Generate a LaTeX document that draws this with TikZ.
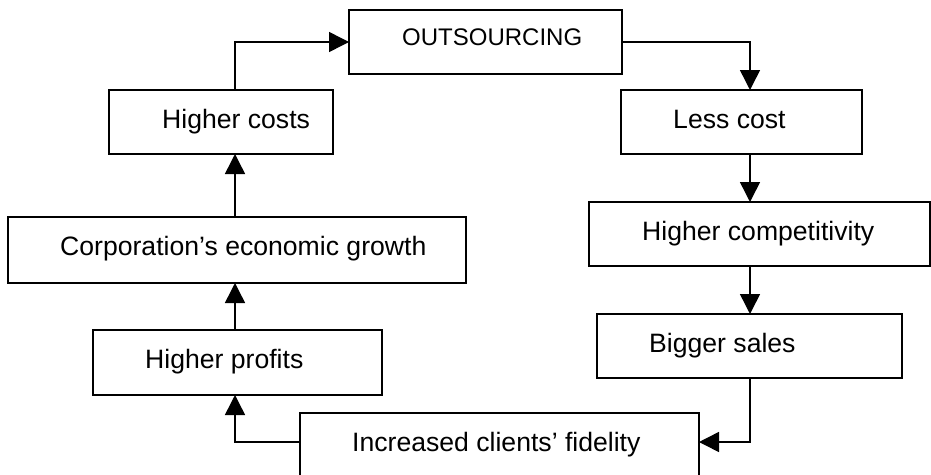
\documentclass[tikz,border=0pt]{standalone}
\usepackage{fontspec}
\setmainfont{Liberation Sans}
\usetikzlibrary{arrows.meta}

\begin{document}
\begin{tikzpicture}[x=1pt,y=-1pt,
  box/.style={draw=black, line width=1.8pt, fill=white, inner sep=0pt, outer sep=0pt},
  lbl/.style={anchor=base west, inner sep=0pt, font=\fontsize{26.6}{30}\selectfont},
  smalllbl/.style={anchor=base west, inner sep=0pt, font=\fontsize{24}{28}\selectfont},
  arr/.style={line width=1.5pt, -{Triangle[length=20pt,width=20pt]}}]

  % canvas
  \fill[white] (0,0) rectangle (931,474);
  \useasboundingbox (0,0) rectangle (931,474);

  % boxes
  \node[box, minimum width=273pt, minimum height=64pt] (out)   at (485.5,42)  {};
  \node[box, minimum width=224pt, minimum height=64pt] (hc)    at (221,122)   {};
  \node[box, minimum width=241pt, minimum height=64pt] (lc)    at (741.5,122) {};
  \node[box, minimum width=458pt, minimum height=66pt] (cg)    at (237,250)   {};
  \node[box, minimum width=341pt, minimum height=64pt] (hcomp) at (759.5,234) {};
  \node[box, minimum width=305pt, minimum height=64pt] (bs)    at (749.5,346) {};
  \node[box, minimum width=289pt, minimum height=65pt] (hp)    at (237.5,362.5) {};
  \node[box, minimum width=399pt, minimum height=65pt] (inc)   at (499.5,445.5) {};

  % texts
  \node[smalllbl] (out-t)   at (402,45)  {OUTSOURCING};
  \node[lbl]      (hc-t)    at (162,128) {Higher costs};
  \node[lbl]      (lc-t)    at (673,128) {Less cost};
  \node[lbl]      (cg-t)    at (60,255)  {Corporation’s economic growth};
  \node[lbl]      (hcomp-t) at (642,240) {Higher competitivity};
  \node[lbl]      (bs-t)    at (649,352) {Bigger sales};
  \node[lbl]      (hp-t)    at (145,368) {Higher profits};
  \node[lbl]      (inc-t)   at (352,451) {Increased clients’ fidelity};

  % connector guide positions
  \coordinate (lx) at (235,0);
  \coordinate (rx) at (750,0);
  \coordinate (jy) at (0,442);

  % connectors
  \draw[arr] (hc.north -| lx) |- (out.west);
  \draw[arr] (out.east) -| (lc.north -| rx);
  \draw[arr] (lc.south -| rx) -- (hcomp.north -| rx);
  \draw[arr] (hcomp.south -| rx) -- (bs.north -| rx);
  \draw[arr] (bs.south -| rx) |- (inc.east |- jy);
  \draw[arr] (inc.west |- jy) -| (hp.south -| lx);
  \draw[arr] (hp.north -| lx) -- (cg.south -| lx);
  \draw[arr] (cg.north -| lx) -- (hc.south -| lx);
\end{tikzpicture}
\end{document}
